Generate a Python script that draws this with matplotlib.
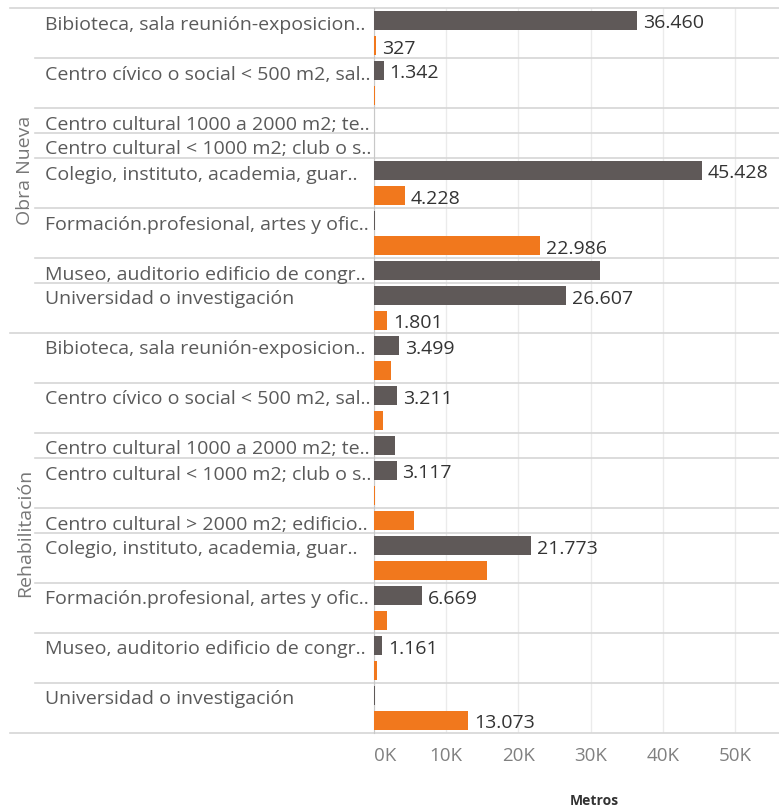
import numpy as np
import matplotlib.pyplot as plt
from matplotlib.transforms import blended_transform_factory
from matplotlib.ticker import FuncFormatter

nan = np.nan

# datos
grupos = ['Obra Nueva'] * 8 + ['Rehabilitación'] * 9
categorias = [
    'Bibioteca, sala reunión-exposicion..',
    'Centro cívico o social < 500 m2, sal..',
    'Centro cultural 1000 a 2000 m2; te..',
    'Centro cultural < 1000 m2; club o s..',
    'Colegio, instituto, academia, guar..',
    'Formación.profesional, artes y ofic..',
    'Museo, auditorio edificio de congr..',
    'Universidad o investigación',
    'Bibioteca, sala reunión-exposicion..',
    'Centro cívico o social < 500 m2, sal..',
    'Centro cultural 1000 a 2000 m2; te..',
    'Centro cultural < 1000 m2; club o s..',
    'Centro cultural > 2000 m2; edificio..',
    'Colegio, instituto, academia, guar..',
    'Formación.profesional, artes y ofic..',
    'Museo, auditorio edificio de congr..',
    'Universidad o investigación',
]
gris = [36460, 1342, 0, 0, 45428, 150, 31300, 26607,
        3499, 3211, 2950, 3117, nan, 21773, 6669, 1161, 120]
naranja = [327, 150, nan, nan, 4228, 22986, nan, 1801,
           2300, 1200, nan, 120, 5600, 15600, 1800, 450, 13073]
etiqueta_gris = [1, 1, 0, 0, 1, 0, 0, 1, 1, 1, 0, 1, 0, 1, 1, 1, 0]
etiqueta_naranja = [1, 0, 0, 0, 1, 1, 0, 1, 0, 0, 0, 0, 0, 0, 0, 0, 1]

c_gris = '#5f5958'
c_naranja = '#f1781d'
c_linea = '#d6d6d6'

plt.rcParams['font.family'] = ['Open Sans', 'DejaVu Sans']

W, H = 779, 811
fig = plt.figure(figsize=(W / 100, H / 100), dpi=100)
x0, x1, y0, y1 = 374, 779, 8, 733
ax = fig.add_axes([x0 / W, 1 - y1 / H, (x1 - x0) / W, (y1 - y0) / H])

tr = blended_transform_factory(ax.transAxes, ax.transData)
def px(x):
    return (x - x0) / (x1 - x0)

def fmt(v):
    return f'{v:,.0f}'.replace(',', '.')

slot = 0
grupo_ini = 0
for i, cat in enumerate(categorias):
    ini = slot
    for serie, flags, col in ((gris, etiqueta_gris, c_gris), (naranja, etiqueta_naranja, c_naranja)):
        v = serie[i]
        if np.isnan(v):
            continue
        ax.barh(slot + 0.5, v, height=0.76, color=col, zorder=3)
        if flags[i]:
            ax.text(v + 800, slot + 0.62, fmt(v), va='center', ha='left',
                    fontsize=14, color='#333333', zorder=4)
        slot += 1
    ax.text(px(45), ini + 0.66, cat, transform=tr, va='center', ha='left',
            fontsize=14, color='#5a5a5a')
    fin_grupo = i == len(categorias) - 1 or grupos[i + 1] != grupos[i]
    ax.plot([px(10) if fin_grupo else px(35), 1], [slot, slot], transform=tr,
            color=c_linea, lw=1.2, clip_on=False, zorder=2)
    if fin_grupo:
        ax.text(px(25), (grupo_ini + slot) / 2, grupos[i], transform=tr,
                rotation=90, va='center', ha='center', fontsize=14, color='#777777')
        grupo_ini = slot

ax.plot([px(10), 1], [0, 0], transform=tr, color=c_linea, lw=1.2, clip_on=False)

ax.set_ylim(slot, 0)
ax.set_xlim(0, 56100)
ax.set_yticks([])
ax.set_xticks(np.arange(0, 50001, 10000))
ax.xaxis.set_major_formatter(FuncFormatter(lambda v, p: f'{v / 1000:.0f}K'))
ax.tick_params(axis='x', length=0, pad=10, labelsize=13.5, labelcolor='#808080')
ax.get_xticklabels()[0].set_horizontalalignment('left')
ax.xaxis.grid(True, color='#ebebeb', lw=1)
ax.set_axisbelow(True)
for s in ['top', 'right', 'bottom']:
    ax.spines[s].set_visible(False)
ax.spines['left'].set_color('#c8c8c8')

fig.text(594 / W, 1 - 801 / H, 'Metros', ha='center', va='center',
         fontsize=10, fontweight='bold', color='#333333')

plt.savefig('out.png', dpi=100)
